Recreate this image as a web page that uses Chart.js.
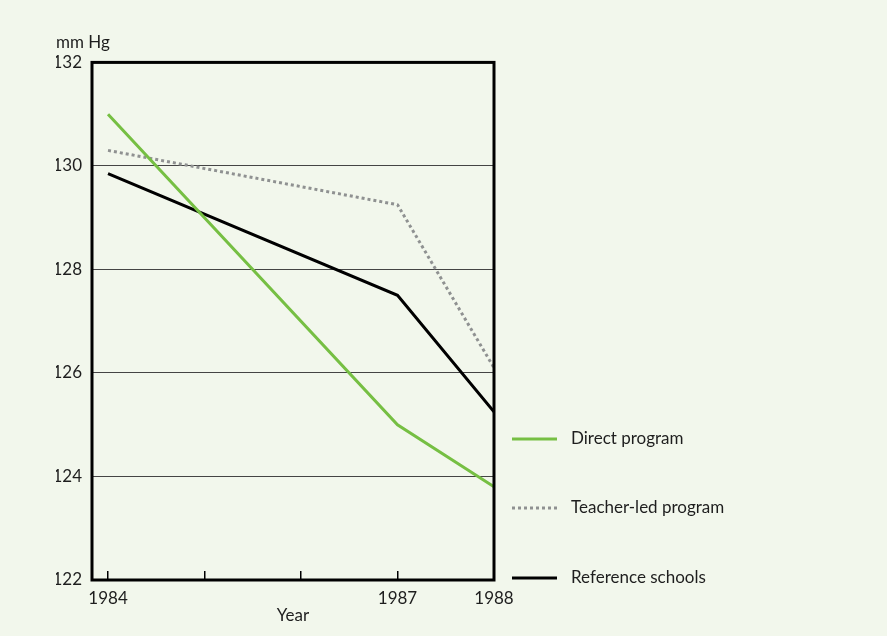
<!DOCTYPE html>
<html lang="en">
<head>
  <meta charset="UTF-8">
  <title>Blood pressure by program</title>
  <script src="https://cdn.jsdelivr.net/npm/chart.js"></script>
  <style>
    html, body { margin: 0; padding: 0; background: #f2f7ec; }
    .chart-container { width: 887px; height: 636px; }
  </style>
</head>
<body>
  <div class="chart-container"><canvas id="bpChart"></canvas></div>
  <script>
    // values
    const years = [1984, 1987, 1988];
    const directProgram = [131.0, 125.0, 123.8];
    const teacherLedProgram = [130.3, 129.25, 126.1];
    const referenceSchools = [129.85, 127.5, 125.25];
    const yearTicks = [1984, 1985, 1986, 1987, 1988];
    const labelledYears = [1984, 1987, 1988];

    const FONT = 'Lato, "DejaVu Sans", sans-serif';
    const TEXT = '#1e1e1e';

    function toPoints(values) {
      return years.map((y, i) => ({ x: y, y: values[i] }));
    }

    // background + frame + legend on the right
    const decor = {
      id: 'decor',
      beforeDraw(chart) {
        const ctx = chart.ctx;
        ctx.save();
        ctx.fillStyle = '#f2f7ec';
        ctx.fillRect(0, 0, chart.width, chart.height);
        ctx.restore();
      },
      afterDraw(chart) {
        const ctx = chart.ctx;
        const a = chart.chartArea;
        ctx.save();
        ctx.strokeStyle = '#000';
        ctx.lineWidth = 3;
        ctx.strokeRect(a.left, a.top, a.right - a.left, a.bottom - a.top);

        const rows = [439, 508, 578];
        chart.data.datasets.forEach((ds, i) => {
          const y = rows[i];
          ctx.beginPath();
          ctx.setLineDash(ds.borderDash || []);
          ctx.strokeStyle = ds.borderColor;
          ctx.lineWidth = ds.borderWidth;
          ctx.moveTo(512, y);
          ctx.lineTo(557, y);
          ctx.stroke();
          ctx.setLineDash([]);
          ctx.fillStyle = TEXT;
          ctx.font = '17px ' + FONT;
          ctx.textBaseline = 'middle';
          ctx.fillText(ds.label, 571, y);
        });
        ctx.restore();
      }
    };

    new Chart(document.getElementById('bpChart'), {
      type: 'line',
      data: {
        datasets: [
          {
            label: 'Direct program',
            data: toPoints(directProgram),
            borderColor: '#76bf43',
            borderWidth: 3,
            pointRadius: 0,
            tension: 0
          },
          {
            label: 'Teacher-led program',
            data: toPoints(teacherLedProgram),
            borderColor: '#8f9191',
            borderWidth: 3,
            borderDash: [3, 3],
            pointRadius: 0,
            tension: 0
          },
          {
            label: 'Reference schools',
            data: toPoints(referenceSchools),
            borderColor: '#000',
            borderWidth: 3,
            pointRadius: 0,
            tension: 0
          }
        ]
      },
      options: {
        responsive: true,
        maintainAspectRatio: false,
        animation: false,
        layout: { padding: { left: 56, right: 393, top: 29, bottom: 10 } },
        plugins: {
          legend: { display: false },
          tooltip: { enabled: false },
          title: {
            display: true,
            text: 'mm Hg',
            align: 'start',
            color: TEXT,
            font: { family: FONT, size: 17, weight: 'normal' },
            padding: { top: 3, bottom: 10 }
          }
        },
        scales: {
          x: {
            type: 'linear',
            min: 1983.834,
            max: 1988,
            afterBuildTicks: scale => { scale.ticks = yearTicks.map(v => ({ value: v })); },
            afterFit: scale => { scale.height = 46; },
            border: { display: false },
            grid: {
              drawOnChartArea: false,
              tickLength: -9,
              color: '#000',
              lineWidth: 1.5
            },
            ticks: {
              padding: 17,
              maxRotation: 0,
              autoSkip: false,
              color: TEXT,
              font: { family: FONT, size: 17 },
              callback: v => labelledYears.includes(v) ? String(v) : ''
            },
            title: {
              display: true,
              text: 'Year',
              color: TEXT,
              font: { family: FONT, size: 17 },
              padding: { top: -7, bottom: 0 }
            }
          },
          y: {
            min: 122,
            max: 132,
            afterFit: scale => { scale.width = 36; },
            border: { display: false },
            grid: { color: '#444', lineWidth: 1, drawTicks: false },
            ticks: {
              stepSize: 2,
              padding: 10,
              color: TEXT,
              font: { family: FONT, size: 17 }
            }
          }
        }
      },
      plugins: [decor]
    });
  </script>
</body>
</html>
